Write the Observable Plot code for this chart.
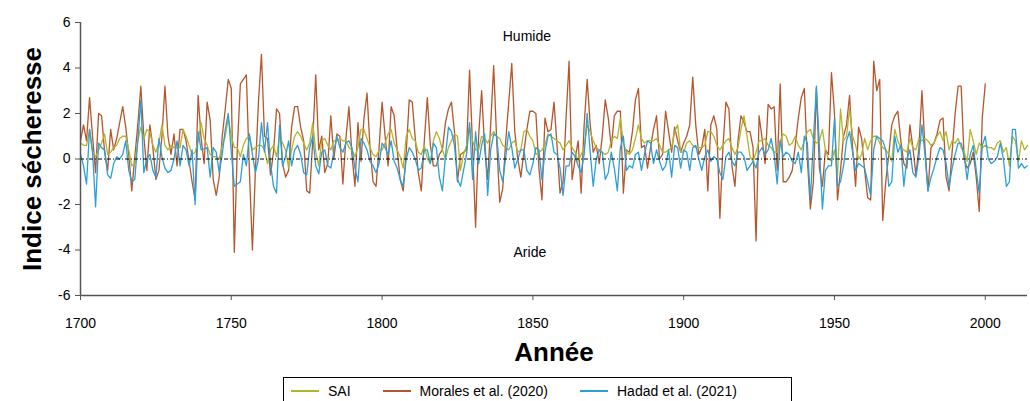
<!DOCTYPE html>
<html>
<head>
<meta charset="utf-8">
<script src="https://cdn.jsdelivr.net/npm/d3@7"></script>
<script src="https://cdn.jsdelivr.net/npm/@observablehq/plot@0.6"></script>
<style>
  html, body { margin: 0; padding: 0; background: #fff; }
  body { font-family: "Liberation Sans", Arial, sans-serif; width: 1030px; height: 401px; overflow: hidden; position: relative; }
  #chart svg { display: block; }
  g[aria-label="x-axis label"] text, g[aria-label="y-axis label"] text { font-size: 26px; font-weight: bold; fill: #000; }
  #legend { position: absolute; left: 283px; top: 377px; width: 509px; height: 28px; border: 1px solid #000; box-sizing: border-box;
            display: flex; align-items: center; padding-left: 7px; font-size: 14px; color: #000; }
  #legend .item { display: flex; align-items: center; margin-right: 32px; white-space: nowrap; }
  #legend .sw { display: inline-block; width: 28px; height: 2px; margin-right: 9px; }
</style>
</head>
<body>
<div id="chart"></div>
<div id="legend"></div>
<script>
const startYear = 1700;
const xTicks = [1700, 1750, 1800, 1850, 1900, 1950, 2000];
const yTicks = [-6, -4, -2, 0, 2, 4, 6];
const seriesNames = ["SAI", "Morales et al. (2020)", "Hadad et al. (2021)"];
const seriesColors = ["#b3b42c", "#b5562c", "#2b9fd8"];
const annotationLabels = ["Humide", "Aride"];

// SAI, 1700-2014
const sai = [
  0.7, 0.6, 0.6, 1.3, 0.3, 0.1, 0.4, 0.7, 1.1, 0.2, 0.3, 0.5, 0.6, 0.9, 1.0, 1.0, 0.4, -0.3, -0.2, 0.8, 1.4, 0.9, 1.3, 1.2, 0.6, 0.3,
  0.7, 1.5, 0.6, 0.4, 0.6, 0.5, 0.5, 0.5, 1.3, 1.0, 0.6, 0.2, 0.3, 0.8, 1.6, 0.9, 0.6, 0.2, 0.1, 0.1, 0.0, 0.6, 1.0, 1.8, 1.0, 0.5,
  0.5, 0.1, 0.6, 0.9, 1.0, 0.4, 0.5, 0.6, 0.6, 0.4, -0.2, 0.4, 0.6, 0.1, 1.0, 0.7, 0.4, -0.4, 0.4, 1.0, 1.2, 1.0, 0.7, 0.4, 0.7, 1.6, 0.3,
  -0.3, 0.8, 0.9, 0.6, 0.4, 0.8, 0.8, 0.9, 0.8, 0.8, 0.5, 0.4, 0.1, 0.5, 1.3, 1.3, 0.9, 0.5, 0.2, 0.1, 0.4, 0.4, 0.7, 1.1, 1.3, 0.7,
  0.4, 0.1, -0.4, 1.0, 1.3, 0.9, 0.8, 0.3, 0.2, 0.6, 0.0, -0.2, 0.8, 1.2, 0.9, 0.4, 0.0, 0.5, 0.8, 1.1, 1.0, -0.5, 0.2, 0.6, 1.4, 0.8,
  0.4, 0.4, 1.0, 0.9, 0.7, 1.0, 1.2, 1.0, 0.9, 0.6, 0.5, 0.4, 0.7, 0.8, 0.3, 0.4, 1.2, 1.3, 1.0, 0.8, 0.2, 0.3, 0.4, 0.6, 1.1, 1.0,
  0.9, 0.8, 0.7, 0.4, 0.6, 0.8, 0.5, 0.3, -0.1, 0.2, 0.5, 1.5, 1.2, 0.8, 0.5, 0.4, 0.3, 0.2, 0.3, 0.8, 1.0, 0.9, 1.8, 0.7, 0.3, 0.2,
  0.4, 0.9, 1.5, 0.9, 0.7, 0.8, 0.8, 0.8, 0.9, 0.6, 0.3, 0.3, 0.4, 0.5, 1.2, 1.5, 0.3, 0.3, 0.7, 0.8, 0.6, 0.5, 0.5, 0.5, 0.6, 1.2,
  1.2, 1.0, 0.6, 0.4, 0.6, 0.8, 0.9, 0.5, 0.2, 0.5, 1.3, 1.9, 1.0, 0.1, -0.1, 0.3, 0.8, 0.8, 0.9, 0.6, 0.5, 0.3, 0.3, 0.8, 1.1, 1.0, 0.6,
  0.7, 1.0, 0.6, 0.4, 0.8, 1.2, 1.3, 0.9, 0.7, 0.8, 1.3, 0.4, 0.0, -0.1, 0.4, -0.7, 2.2, 0.8, 1.0, 2.2, 1.0, 0.6, 0.0, 0.2, 0.9, 0.4,
  0.8, 1.0, 1.0, 0.7, 0.5, 0.4, 0.2, -0.1, 1.3, 0.8, 0.5, 0.4, 0.3, 0.9, 0.5, 0.4, 0.9, 0.8, 0.9, 0.8, 0.6, 0.7, 1.0, 1.2, 0.8, 1.2,
  0.4, 0.8, 0.7, 0.9, 0.5, 0.3, -0.1, 1.3, 0.8, 0.2, 0.7, 0.5, 0.6, 0.5, 0.5, 0.4, 0.7, 0.8, 0.3, 0.5, -0.3, 1.0, 0.8, -0.1, 0.8, 0.4, 0.6
];

// Morales et al. (2020), 1700-2000
const morales = [
  0.8, 1.5, 0.8, 2.7, 1.0, -0.6, 2.0, 1.9, 0.3, -0.5, 1.3, 0.4, 0.9, 1.6, 2.3, 1.4, 0.2, -1.4, 0.1, 1.5, 3.2, 1.0, -0.5, 1.5, 0.5, -0.9,
  -0.5, 1.0, 3.2, 1.0, 0.2, 1.1, -0.3, 1.3, 1.3, 0.8, -0.1, -1.0, -1.8, 2.8, 0.9, -0.2, 2.5, 1.7, -0.9, -1.6, -0.8, 1.0, 2.2, 3.5, 3.1, -4.1,
  0.5, 3.3, 3.5, 3.7, -0.5, -4.0, -0.5, 2.5, 4.6, 1.0, 0.9, -0.7, 0.3, 2.2, 2.0, -0.2, -0.8, -0.5, 1.4, 2.3, 2.3, 1.4, 0.8, -1.4, -1.5, 0.8, 3.7,
  0.4, 1.0, -0.6, -0.2, 1.9, 0.0, 1.1, 1.0, -1.1, 0.9, 2.3, 0.2, -1.2, 1.6, -0.1, 1.8, 2.9, 0.5, -1.0, -1.2, 0.5, 2.5, 1.0, -0.3, 2.3, 1.9,
  0.4, -0.9, -1.4, 0.3, 2.6, 2.5, 0.9, -0.6, -1.4, 0.8, 2.7, 0.6, -0.3, -0.3, 0.2, 0.4, 1.6, 2.2, 2.5, 1.2, -1.0, 0.2, 0.3, 0.4, 3.9, 0.5,
  -3.0, 1.0, 3.0, 0.5, -0.9, 1.5, 4.1, 0.8, -1.9, -1.3, 0.8, 2.5, 4.2, 1.2, 0.0, -0.8, 0.3, 1.3, 2.1, 2.1, 2.0, -0.4, -1.8, 1.8, 1.2, 1.3,
  2.5, 0.6, -1.5, -1.0, 1.8, 4.3, -0.9, 0.0, 0.8, -1.5, 1.5, 3.5, 1.5, 0.3, 0.6, -0.2, 1.0, 2.6, 1.8, 0.5, 1.9, 2.1, 2.1, -1.5, 0.4, 0.3,
  1.2, 2.6, 3.1, 0.5, 0.6, -0.4, 0.5, 1.3, 1.9, 0.0, 0.2, 2.1, 1.2, 0.3, 1.4, 0.8, 0.3, 0.7, 1.0, 1.5, 3.6, 1.5, 0.2, 0.5, 1.3, -1.4,
  1.5, 1.9, 1.3, -2.6, 0.5, 2.5, 2.2, -0.3, -1.2, 0.8, 1.9, 1.6, 1.2, 1.2, 0.5, -3.6, 1.9, 0.9, -0.2, 2.4, 2.2, 2.3, -0.5, 3.3, -1.0, -1.0, -0.8,
  -0.5, 0.6, 1.8, 2.7, 3.1, 0.0, -2.2, -1.0, 3.1, -0.4, -1.2, 0.4, 0.2, 3.8, 2.0, -1.8, -0.5, 1.0, 1.5, 2.8, 0.5, -1.2, 1.4, 0.9, -0.5, -1.7,
  -1.8, 4.3, 3.0, 3.5, -2.7, -1.0, 0.2, 1.5, 1.9, 2.1, 0.8, -0.2, -0.4, 1.5, 0.5, -0.7, 0.5, 3.0, 0.5, -1.4, 0.5, 0.7, 1.1, 1.7, 1.8, -0.8,
  -1.4, 0.3, 2.0, 3.2, 3.2, 0.0, -0.4, -0.2, 0.3, -0.8, -2.3, 1.8, 3.3
];

// Hadad et al. (2021), 1700-2014
const hadad = [
  0.2, -0.3, -1.1, 1.3, 0.3, -2.1, 0.7, 0.5, 0.4, -0.7, -0.85, -0.2, 0.1, 0.0, 0.2, 0.8, -0.5, -1.0, -0.9, 0.8, 2.6, -0.6, 0.0, 0.2, -0.5, -0.8,
  0.9, 0.1, -0.4, -0.6, -0.5, 0.0, 0.8, -0.3, 0.6, 0.4, -0.3, 0.4, -2.0, 1.2, 0.4, 0.45, 0.5, -0.8, 0.5, 0.3, -0.6, 0.2, 1.3, 2.0, 0.3, -1.2,
  -1.1, -1.0, 0.2, -0.3, 1.1, 0.2, -0.6, 0.0, 1.6, 0.3, 1.6, -0.2, -1.2, -1.5, 1.5, -0.3, 0.1, 0.8, -0.3, 0.4, 0.6, 0.2, -0.6, -0.7, 0.5, 1.0, -0.3,
  -0.65, 0.3, 0.4, -0.3, -0.4, 0.3, 1.0, 0.5, 0.3, 0.7, 0.8, 0.5, -0.4, -1.0, 0.9, 0.7, 0.4, -0.1, -0.3, -0.6, -0.2, 0.7, 0.5, 0.2, 0.8, -0.1,
  -0.4, -0.9, -1.2, 0.0, 0.5, 0.3, 0.0, -0.5, -0.4, 0.4, 0.4, -0.2, 0.7, 0.5, -0.8, -1.4, 0.1, 1.4, 1.2, 0.6, -0.9, -1.2, -0.5, 0.2, 1.6, -0.9,
  1.2, -0.2, 0.6, 1.1, -1.6, 0.4, 1.1, 1.0, -0.5, -1.0, 0.1, 1.2, 0.5, -0.4, 0.0, 0.4, 0.4, -0.5, -0.7, -0.2, 0.5, 0.4, -0.9, 0.3, 1.0, 1.1,
  0.3, 0.2, -0.4, -1.6, -0.3, -0.3, 0.3, 0.1, -0.3, -0.6, 0.2, 2.0, 0.3, -1.2, 0.0, 0.4, 0.3, -0.9, -0.6, 0.3, -0.4, -1.4, 0.5, 1.0, -0.5, -0.3,
  -0.4, 0.2, 0.3, -0.5, 0.2, 0.8, 0.7, -0.2, 0.4, -0.1, -0.5, -0.3, 0.4, -0.8, 0.6, 0.5, -0.4, 0.4, 0.3, -0.5, 0.5, 0.6, 0.0, -0.5, 0.1, 0.4,
  -0.1, 0.1, 0.0, -0.6, -0.9, 0.1, 0.3, -0.1, -0.3, 0.3, 0.3, 0.1, -0.5, -0.3, -0.1, -0.4, 0.3, 0.5, 0.2, 0.4, 0.9, 0.2, -1.1, 0.8, 0.1, 0.3, 0.2,
  -0.1, -0.2, 0.3, -0.6, 1.0, 0.7, -1.8, 0.8, 3.2, 0.5, -2.2, -0.5, -0.3, -0.3, 1.8, -1.2, -1.0, -0.3, 0.8, 1.2, 0.3, -0.5, -0.2, -0.3, -0.4, -1.0,
  -1.6, 0.4, 1.0, 0.9, 0.8, 0.4, -1.2, -1.0, 1.0, 0.3, 0.6, -1.2, 0.0, 0.4, -0.6, -0.8, 0.1, 1.5, 0.2, -1.4, -0.8, -0.4, 0.1, 0.5, 0.4, -0.2,
  -1.2, -0.4, 0.2, 0.7, 0.7, 0.1, -0.9, 0.2, 0.6, -0.5, -1.5, 0.6, 1.0, 0.0, -0.2, -0.1, 0.1, 0.7, 0.0, -1.2, -1.0, 1.3, 1.3, -0.4, -0.2, -0.4, -0.3
];

const toRows = (values) => values.map((v, i) => ({ year: startYear + i, value: v }));
const rowsSAI = toRows(sai), rowsMorales = toRows(morales), rowsHadad = toRows(hadad);

const plot = Plot.plot({
  width: 1030,
  height: 372,
  marginLeft: 80,
  marginRight: 3,
  marginTop: 22,
  marginBottom: 77,
  x: { domain: [startYear, 2014] },
  y: { domain: [yTicks[0], yTicks[yTicks.length - 1]] },
  style: { fontFamily: "'Liberation Sans', Arial, sans-serif", fontSize: "14px", color: "#000", background: "#fff" },
  marks: [
    Plot.lineY(rowsMorales, { x: "year", y: "value", stroke: seriesColors[1], strokeWidth: 1.3 }),
    Plot.lineY(rowsSAI, { x: "year", y: "value", stroke: seriesColors[0], strokeWidth: 1.3 }),
    Plot.lineY(rowsHadad, { x: "year", y: "value", stroke: seriesColors[2], strokeWidth: 1.3 }),
    Plot.ruleY([0], { stroke: "#000", strokeWidth: 1, strokeDasharray: "4,2,1,2" }),
    Plot.text([annotationLabels[0]], { x: () => 1848, y: () => 5.4, text: d => d, fontSize: 14, fill: "#000" }),
    Plot.text([annotationLabels[1]], { x: () => 1849, y: () => -4.1, text: d => d, fontSize: 14, fill: "#000" }),
    Plot.axisY({ ticks: yTicks, tickSize: 5, tickPadding: 5, tickFormat: d => String(d), stroke: "#555",
                 label: "Indice sécheresse", labelAnchor: "center", labelOffset: 58, labelArrow: "none" }),
    Plot.axisX({ ticks: xTicks, tickSize: 5, tickPadding: 18, tickFormat: d => String(d), stroke: "#555",
                 label: "Année", labelAnchor: "center", labelOffset: 65, labelArrow: "none" }),
    Plot.ruleX([startYear], { stroke: "#555", strokeWidth: 1.5 }),
    Plot.ruleY([yTicks[0]], { stroke: "#555", strokeWidth: 1.5 })
  ]
});
document.getElementById("chart").appendChild(plot);

const legend = document.getElementById("legend");
seriesNames.forEach((name, i) => {
  const item = document.createElement("div");
  item.className = "item";
  const sw = document.createElement("span");
  sw.className = "sw";
  sw.style.background = seriesColors[i];
  const label = document.createElement("span");
  label.textContent = name;
  item.appendChild(sw);
  item.appendChild(label);
  legend.appendChild(item);
});
</script>
</body>
</html>
